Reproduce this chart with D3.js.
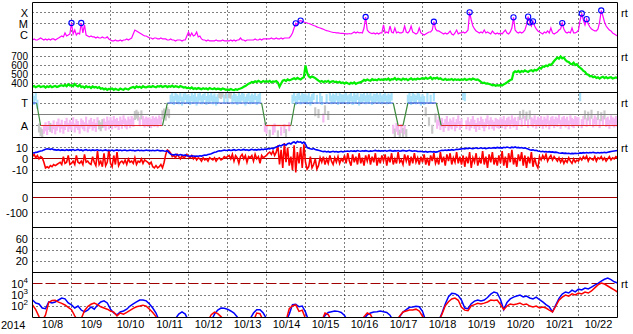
<!DOCTYPE html>
<html><head><meta charset="utf-8">
<script src="https://cdn.jsdelivr.net/npm/d3@7/dist/d3.min.js"></script>
<style>
html,body{margin:0;padding:0;background:#fff;}
svg{display:block;font-family:"Liberation Sans",Arial,Helvetica,sans-serif;}
</style></head><body>
<svg id="c" width="633" height="334"></svg>
<script>
// ---------- DATA ----------
const yearLabel = "2014";
const dayLabels = ["10/8","10/9","10/10","10/11","10/12","10/13","10/14","10/15","10/16","10/17","10/18","10/19","10/20","10/21","10/22"];

// GOES X-ray flux, hourly from 10/8 00UT, units of 1e-6 W/m2
const xrayFlux = [
0.38,0.47,0.38,0.38,0.47,0.57,0.47,0.38,0.47,0.38,0.47,0.38,0.47,0.47,0.38,0.47,0.57,0.71,0.86,0.71,1.6,0.86,1.05,1.3,
12.3,1.3,2.9,1.05,1.6,1.3,12.3,1.6,8.2,1.05,0.86,0.71,0.86,0.71,0.71,0.57,0.71,0.57,0.57,0.71,0.57,0.57,0.71,0.47,
0.38,0.31,0.31,0.38,0.31,0.31,0.38,0.31,0.38,0.38,0.47,0.38,0.47,0.57,1.3,2.9,2.4,1.95,1.6,1.3,1.05,0.86,0.86,0.71,
0.57,0.57,0.47,0.57,0.57,0.47,0.47,0.57,0.47,0.47,0.47,0.38,0.38,0.47,0.38,0.38,0.31,0.38,0.38,0.38,0.31,0.38,0.38,0.86,
1.95,0.86,1.6,0.86,1.05,1.95,0.71,0.86,0.47,0.38,0.38,0.31,0.38,0.31,0.31,0.31,0.31,0.38,0.31,0.31,0.31,0.38,0.31,0.31,
0.31,0.31,0.38,0.31,0.38,0.31,0.38,0.38,0.57,0.38,0.38,0.31,0.38,0.38,0.38,0.38,0.38,0.47,0.38,0.38,0.47,0.38,0.47,0.47,
0.47,0.47,0.47,0.57,0.47,0.47,0.57,0.47,0.47,0.57,0.47,0.57,0.57,0.57,0.57,0.86,1.6,4.4,11.5,8.2,18.5,20,17,15,
13.6,12.3,11.1,10,8.5,7.4,6.6,5.6,4.9,4.4,3.9,3.45,2.9,2.6,2.4,2.15,1.95,1.83,1.75,1.65,1.6,1.52,1.49,1.46,
1.42,1.35,1.3,1.42,1.3,1.6,1.95,1.6,1.95,1.6,1.75,1.6,4.4,42,2.9,1.95,1.6,1.42,1.6,1.3,1.6,1.3,1.6,1.6,
8.2,1.6,1.95,1.6,6.6,1.95,1.6,4.4,1.6,1.95,1.6,1.6,1.95,6.6,1.95,1.6,2.4,6.6,1.95,1.6,1.3,1.6,4.4,1.6,
1.3,1.05,1.3,1.6,1.95,1.95,2.9,16,3.6,2.4,2.4,1.95,1.6,1.3,1.6,1.3,1.6,2.4,1.3,1.05,1.6,2.9,1.3,1.6,
1.6,1.95,1.6,1.95,2.9,110,22.7,6.6,3.6,2.4,1.95,1.6,1.95,1.6,2.9,1.6,1.95,1.6,1.3,2.4,1.6,1.3,1.6,1.3,
1.6,1.3,1.95,2.9,1.6,1.3,1.95,4.4,39,2.9,1.95,1.6,1.95,1.6,1.95,2.9,8.2,45,14,6.6,17,6.6,3.6,2.4,
1.95,1.6,1.3,1.95,1.6,2.4,1.6,4.4,1.6,1.3,1.6,1.95,2.9,3.6,12,3.6,1.95,1.6,1.95,1.6,4.4,1.6,1.6,1.95,
2.9,22.7,86,22.7,8.2,27,10,5.4,3.6,2.9,2.4,2.4,3.6,15,158,51,15,6.6,4.4,2.9,2.4,1.6,1.3,1.05,0.86];
const flareHours = [24,30,162,165,205,247,269,296,305,306,308,326,338,341,350];
const flareFlux  = [12.3,12.3,11.5,20,42,16,110,39,45,14,17,12,86,27,158];

// solar wind speed km/s, hourly
const windSpeed = [
365,372,358,368,375,360,366,371,355,369,362,374,358,367,373,361,368,376,380,372,385,370,392,378,
382,370,395,376,368,384,360,367,352,370,358,364,349,368,356,362,351,360,342,348,335,344,330,341,
338,345,330,342,334,328,343,336,330,345,338,332,348,355,362,350,368,358,365,352,370,360,356,366,
368,360,372,364,358,370,366,375,362,368,373,360,369,364,376,361,370,366,358,372,364,355,360,350,
352,345,356,340,348,338,350,343,336,348,340,345,334,350,342,338,346,335,343,340,332,345,338,330,
335,328,338,330,326,336,329,340,345,352,364,372,385,398,405,418,412,425,416,430,420,415,428,418,
425,418,430,412,424,420,428,410,365,400,432,440,428,445,436,442,450,458,447,462,452,445,460,470,
600,520,480,465,478,470,460,445,432,420,428,415,425,418,430,412,422,426,415,420,410,418,405,412,
398,410,402,395,408,400,412,396,405,410,415,425,440,432,445,436,430,448,438,442,435,450,440,445,
438,450,442,455,436,448,445,460,440,452,446,438,455,444,450,436,448,458,442,450,445,456,448,452,
460,450,465,452,458,470,448,462,455,466,450,458,445,440,452,438,446,442,450,436,448,440,445,438,
446,440,452,438,445,450,442,455,448,440,446,432,418,405,410,398,402,395,388,380,385,375,382,378,
385,378,390,400,412,425,438,445,520,535,528,540,525,538,530,545,535,528,542,548,536,552,545,558,
575,565,590,585,600,592,610,605,625,650,670,690,675,700,680,688,660,645,640,620,615,632,605,615,
590,575,560,540,530,505,498,480,485,470,478,462,470,455,468,475,460,472,458,466,470,455,462,468,460];

// IMF sector boundaries (hour, state T=toward / A=away)
const sectorHours = [0,2.5,5,80,83,141,143.5,159,161.5,222,225,228,231,248.5,251.5,360];
const sectorState = ["T","T","A","A","T","T","A","A","T","T","A","A","T","T","A","A"];
// IMF longitude angle (deg), hourly, with class b=toward p=away g=undetermined -=none
const phiAngle = [
310,290,325,260,70,40,25,60,80,50,90,75,65,95,55,85,110,70,100,60,90,115,75,100,
85,120,70,105,90,60,110,95,80,125,70,100,115,85,105,75,120,95,80,105,110,85,125,95,
120,95,130,105,115,90,125,100,135,110,95,125,105,130,115,170,180,165,120,175,130,110,125,115,
120,105,130,115,125,110,135,120,175,190,165,200,185,300,315,290,325,305,295,320,285,310,330,300,
305,290,320,300,315,285,310,325,295,305,330,290,315,300,320,295,310,285,305,345,338,350,300,342,
310,345,340,295,320,305,290,315,300,325,310,285,305,320,295,310,300,330,290,305,315,0,0,75,
60,0,20,0,50,70,0,15,0,45,0,65,25,0,80,0,300,320,290,310,330,295,315,305,
310,295,320,285,305,330,200,300,185,315,290,150,215,305,170,320,295,310,300,325,290,315,305,300,
310,325,295,305,320,290,315,300,330,285,310,305,320,295,315,300,325,290,310,305,320,300,315,295,
305,320,295,310,300,325,60,30,75,50,20,65,35,55,25,300,315,290,320,305,295,330,310,285,
305,290,200,315,120,300,60,320,150,100,125,90,115,75,105,130,85,110,95,120,80,105,135,90,
110,330,320,95,120,85,105,130,100,75,115,90,125,105,80,110,135,95,120,100,85,115,105,100,
120,105,130,95,115,125,100,135,110,120,90,125,170,115,180,130,165,105,175,120,110,135,100,125,
115,130,100,125,110,135,95,120,130,105,125,115,140,100,120,130,110,125,95,135,115,105,130,120,
120,320,105,130,175,115,165,125,180,110,135,120,170,105,160,130,175,115,125,100,135,120,110,130,115];
const phiClass =
"bbbbgggppppgpppppppppppp"+"pppppppppppppppppgggpppp"+"pppppppppppppppgggpgpppp"+
"ppppppppgggggbbbbbbbbbbb"+"bbbbbbbbbbbbbbbbbbbgggbg"+"bggbbbbbbbbbbbbbbbbbb--p"+
"p-g-pp-g-p-pg-p-bbbbbbbb"+"bbbbbbgbgbbpgbgbbbbbbbbb"+"bbbbbbbbbbbbbbbbbbbbbbbb"+
"bbbbbbpgppgpgpgbbbbbbbbb"+"bbgbgbgbgppppppppppppppp"+"pbbppppppppppppppppppppp"+
"ppppppppppppgpgpgpgppppp"+"pppppppppppppppppppppppp"+"pbppgpgpgpppgpgpgpppppppp";

// IMF Bt and Bz (nT), hourly
const imfBt = [
5.5,5.2,5.8,6,6.5,7,7.2,8,8.5,9,8.8,8.5,9,8.2,8,7.8,8.2,7.5,8,7.8,7.5,8.2,7.6,8,
7.8,8.3,7.5,7.9,8.4,7.6,8,7.2,7.8,8.2,7.5,7.9,7.4,8,7.6,7.8,8.1,7.5,7.8,7.2,7.6,8,7.4,7.7,
7.5,7.9,7.2,7.6,8,7.4,7.8,7.3,7.6,7.9,7.2,7.5,7.8,7.4,7.7,7.1,7.5,7.8,7.3,7.6,7.2,7.5,7.8,7.4,
7.6,7.3,7.7,7.2,7.5,7.8,7.3,7.1,7.4,7,6.8,7.2,5.5,4.2,3.8,3.5,4,3.6,3.2,3.8,3.4,3,3.5,2.8,
2.6,2.4,2.8,2.5,2.2,2.6,2.4,2.8,2.5,3,3.4,3.2,3.8,4.2,4.6,5.2,5.8,6.2,6.8,7.2,7,7.5,7.8,7.4,
7.6,8,7.5,7.8,8.2,7.6,7.9,8.3,7.7,8,8.4,7.8,8.1,7.6,8,8.5,7.9,8.2,7.8,8.4,8,8.6,8.2,8.8,
8.5,9.2,8.8,9.6,9,10,10.5,11,12,11.5,12.5,13,12.2,13.5,14,13.2,14.5,15,14,15.5,14.8,15.2,14,15,
13,10,9.5,9,8.6,9.2,8.4,8,7.6,7.2,6.8,6.5,6.8,6.2,6.6,6,6.4,6.8,6.2,6.5,6,6.4,6.7,6.2,
6.5,6.8,7,6.6,7.2,6.8,7.1,6.7,7.4,7,6.8,7.2,6.9,7.3,7,6.6,7.1,6.8,7.2,7.5,7,7.3,6.9,7.2,
7,7.4,6.8,7.2,7.5,7.1,6.9,7.3,7,7.4,6.8,7.1,7.5,7.2,6.9,7.3,7.6,7.1,6.8,7.2,7,6.7,6.5,6.8,
6.4,6.2,6.6,6,6.3,6.5,6.1,6.4,6,6.2,6.8,7.2,7.6,7.4,7.9,7.5,8,7.7,8.2,7.8,8.1,8.5,8.3,8.7,
8.9,9.2,8.8,9.5,9.1,9.6,9.3,9,9.4,9.8,9.2,9.5,9.9,9.3,9.6,9.1,9.5,9.8,9.4,9.7,10,9.6,10.2,9.8,
10,9.6,10.3,9.9,10.5,10.1,9.8,10.4,10,10.6,9.9,10.2,9.7,10.1,9.5,9.8,9.2,8.8,8.2,7.8,8,7.4,7.6,7,
6.8,6.4,6.7,6.2,6.5,6.1,6.4,6,6.2,5.8,6,5.6,5.2,5,5.3,4.9,5.1,4.8,5,4.6,4.9,4.7,5,4.8,
5,5.3,5.1,5.5,5.2,5.6,5.3,5.7,5.4,5.8,5.5,5.2,5.6,5.3,5.7,5.4,5.8,5.5,5.9,6.2,6.5,6.8,7,7.2,7.4];
const imfBz = [
2,4,1,3,0,2,1,-3,-8,-7,-8,-6,-7,-5,-6,-5,-4,-3,-5,2,-4,-3,3,-5,
-4,-2,-5,3,-3,-4,-2,-5,4,-3,-2,-4,-5,2,-3,-6,7,-5,-2,-7,5,-6,-3,8,
-4,-7,3,-5,6,-6,-3,-2,-4,-1,-5,0,-3,-2,-4,1,-5,-2,-3,0,-4,-1,-2,-3,
-5,-3,-7,-8,-6,-8,-7,-5,-8,-3,4,8,7,5,2,3,1,4,2,0,3,1,2,4,
2,1,3,0,2,-1,1,0,-2,1,-1,0,-2,1,0,-1,1,-2,0,1,-1,0,2,1,
2,3,0,4,-2,3,1,-4,2,4,0,3,-3,2,1,3,-2,4,0,2,-4,3,1,2,
3,5,6,4,7,3,6,12,-5,8,-8,14,-3,10,-6,2,-10,12,-12,6,-4,10,-8,13,
-3,-9,-7,2,-8,-5,0,-9,-6,1,-3,2,-5,0,-4,3,-2,-5,1,-3,2,-4,0,-2,
3,-4,5,-2,-6,4,-3,2,-5,5,-4,1,-6,3,-2,4,-5,2,-3,5,-6,1,-4,3,
-2,4,-6,2,-3,5,-5,0,-4,6,-3,-1,-5,4,-2,3,-6,2,-4,5,-3,1,-5,2,
-3,4,-5,1,-6,3,-2,5,-4,0,-5,6,-3,2,-6,4,-2,5,-5,1,-3,6,-4,2,
-5,3,-7,2,-4,6,-8,1,-3,5,-6,0,-4,7,-5,2,-8,4,-3,6,-5,1,-6,3,
-4,7,-6,2,-8,5,-3,8,-5,1,-7,4,-2,6,-6,3,-8,2,-4,6,-7,1,-5,-8,
2,-1,3,0,4,-2,1,3,-1,2,0,-2,1,-3,0,-4,-1,-3,1,-2,-4,0,-3,-1,
-2,1,-1,2,0,2.5,-2,1,0,-1,2,-2,1,0,2,-1,1,-2,0,2,-1,1,0,2,1];

// electron flux, every 2 hours (two channels: blue and red curves)
const electronBlue = [
360,195,160,70,60,240,195,240,360,540, 450,195,130,70,105,46,31,46,86,55,
130,240,300,195,55,25,17,31,38,55, 105,160,240,360,360,300,160,70,25,5,
5,5,5,5,8,20,31,20,5,5, 5,5,5,5,5,5,20,46,70,66,
55,38,25,11,5,5,5,8,25,50, 50,25,8,5,5,5,5,5,5,20,
140,150,90,105,30,5,5,5,5,5, 15,28,33,38,35,28,15,5,5,5,
5,5,8,17,25,31,33,38,33,28, 16,5,5,12,30,50,80,86,100,90,
35,5,5,5,5,5,25,160,700,1400, 1300,900,350,70,60,170,290,360,300,360,
600,1200,1850,1500,400,50,220,450,650,800, 1000,680,800,540,450,650,380,240,140,90,
32,130,500,1200,1850,1500,2700,1900,3300,2800, 4200,3400,5000,7500,11000,17000,25000,32000,23000,15000,
11700];
const electronRed = [
130,50,12,5,17,220,320,340,230,180, 130,80,50,14,5,8,40,95,150,190,
140,90,70,55,38,30,14,25,20,28, 42,65,90,105,125,100,55,28,12,5,
5,5,5,5,5,5,5,5,5,5, 5,5,5,5,5,18,30,22,12,5,
5,5,5,5,5,5,5,5,5,25, 22,5,5,5,5,5,5,5,5,60,
110,130,35,45,8,5,5,5,5,5, 25,18,5,5,5,5,5,5,5,5,
5,5,12,25,18,5,5,5,5,5, 5,5,5,14,31,38,46,46,55,38,
13,5,5,5,5,5,20,110,250,440, 540,340,80,45,40,110,140,180,160,190,
240,350,320,360,140,50,105,160,135,160, 195,135,160,105,86,105,72,86,70,46,
31,100,350,650,1000,800,1250,1000,1500,1250, 1850,1500,2300,4300,7800,11500,9500,6300,4200,2800,
1850];

// axis labels
const xrayLevels = ["X","M","C"], xrayLevelFlux = [100,10,1];
const speedTicks = [700,600,500,400];
const sectorLabels = ["T","A"], sectorLabelPhi = [270,90];
const bTicks = [10,0,-10];
const dstTicks = [0,-100];
const kpTicks = [60,40,20];
const eTickExp = [4,3,2];
const rtLabel = "rt";

// ---------- LAYOUT ----------
const L = 32.5, R = 617.5, T0 = 2.5, PH = 45;
const pTop = i => T0 + PH * i;
const crisp = v => Math.floor(v) + 0.5;
const svg = d3.select("#c");

const x = d3.scaleLinear().domain([0, 360]).range([L, R]);
const yX = d3.scaleLog().domain([Math.pow(10,-1.089), Math.pow(10,2.911)]).range([pTop(1), pTop(0)]);
const ySpd = d3.scaleLinear().domain([300, 800]).range([pTop(2), pTop(1)]);
const yPhi = d3.scaleLinear().domain([-6, 354]).range([pTop(3), pTop(2)]);
const yB = d3.scaleLinear().domain([-21, 19]).range([pTop(4), pTop(3)]);
const yDst = d3.scaleLinear().domain([-200, 100]).range([pTop(5), pTop(4)]);
const yKp = d3.scaleLinear().domain([0, 80]).range([pTop(6), pTop(5)]);
const yE = d3.scaleLog().domain([10, 1e5]).range([pTop(7), pTop(6)]);

const defs = svg.append("defs");
for (let i = 0; i < 7; i++) {
  defs.append("clipPath").attr("id", "cp" + i).append("rect")
    .attr("x", L).attr("y", pTop(i)).attr("width", R - L).attr("height", PH);
}

// grid
const grid = svg.append("g").attr("stroke", "#000").attr("stroke-width", 1).attr("stroke-dasharray", "1,3");
d3.range(1, 15).forEach(d => {
  grid.append("line").attr("x1", crisp(x(d * 24))).attr("x2", crisp(x(d * 24)))
    .attr("y1", pTop(0)).attr("y2", pTop(7));
});
const hLines = [].concat(
  xrayLevelFlux.slice(0, 2).map(v => yX(v)),
  speedTicks.map(v => ySpd(v)),
  sectorLabelPhi.map(v => yPhi(v)),
  [yB(10), yB(-10)],
  [yDst(-100)],
  kpTicks.map(v => yKp(v)),
  [yE(1e3), yE(1e2)]
);
hLines.forEach(yv => grid.append("line").attr("x1", L).attr("x2", R).attr("y1", crisp(yv)).attr("y2", crisp(yv)));

// reference lines
svg.append("line").attr("x1", L).attr("x2", R).attr("y1", crisp(yB(0))).attr("y2", crisp(yB(0)))
  .attr("stroke", "#a00000").attr("stroke-width", 1);
svg.append("line").attr("x1", L).attr("x2", R).attr("y1", crisp(yDst(0))).attr("y2", crisp(yDst(0)))
  .attr("stroke", "#a00000").attr("stroke-width", 1);
svg.append("line").attr("x1", L).attr("x2", R).attr("y1", crisp(yE(1e4))).attr("y2", crisp(yE(1e4)))
  .attr("stroke", "#a00000").attr("stroke-width", 1).attr("stroke-dasharray", "10,3");

// panel 1: x-ray
const lineX = d3.line().x((d, i) => x(i)).y(d => yX(d));
svg.append("path").attr("clip-path", "url(#cp0)").attr("d", lineX(xrayFlux))
  .attr("fill", "none").attr("stroke", "#ff00ff").attr("stroke-width", 1.2);
svg.append("g").selectAll("circle").data(flareHours).join("circle")
  .attr("cx", (h) => x(h)).attr("cy", (h, i) => yX(flareFlux[i])).attr("r", 2.6)
  .attr("fill", "none").attr("stroke", "#0000ff").attr("stroke-width", 1.1);

// panel 2: speed
const lineS = d3.line().x((d, i) => x(i)).y(d => ySpd(d));
svg.append("path").attr("clip-path", "url(#cp1)").attr("d", lineS(windSpeed))
  .attr("fill", "none").attr("stroke", "#00ee00").attr("stroke-width", 2.2);

// panel 3: sector
const phiColor = { b: "#a8e2fa", p: "#f6b8f2", g: "#c8c8c8" };
svg.append("g").attr("clip-path", "url(#cp2)").selectAll("rect")
  .data(phiAngle.map((p, i) => ({ p, i, c: phiClass[i] })).filter(d => d.c !== "-"))
  .join("rect")
  .attr("x", d => x(d.i) - 1.1).attr("width", 2.2)
  .attr("y", d => yPhi(d.p) - 4.5).attr("height", 9)
  .attr("fill", d => phiColor[d.c]);
svg.append("line").attr("x1", L).attr("x2", R).attr("y1", crisp(yPhi(180))).attr("y2", crisp(yPhi(180)))
  .attr("stroke", "#808080").attr("stroke-width", 1.2);
for (let k = 0; k < sectorHours.length - 1; k++) {
  const s0 = sectorState[k], s1 = sectorState[k + 1];
  const col = s0 !== s1 ? "#3c8a3c" : (s0 === "T" ? "#3355dd" : "#e02828");
  svg.append("line")
    .attr("x1", x(sectorHours[k])).attr("x2", x(sectorHours[k + 1]))
    .attr("y1", yPhi(s0 === "T" ? 270 : 90)).attr("y2", yPhi(s1 === "T" ? 270 : 90))
    .attr("stroke", col).attr("stroke-width", 1.2);
}

// panel 4: IMF
const lineB = d3.line().x((d, i) => x(i)).y(d => yB(d));
svg.append("path").attr("clip-path", "url(#cp3)").attr("d", lineB(imfBz))
  .attr("fill", "none").attr("stroke", "#ff0000").attr("stroke-width", 1.6);
svg.append("path").attr("clip-path", "url(#cp3)").attr("d", lineB(imfBt))
  .attr("fill", "none").attr("stroke", "#0000ff").attr("stroke-width", 1.6);

// panel 7: electrons
const lineE = d3.line().x((d, i) => x(i * 2)).y(d => yE(d));
svg.append("path").attr("clip-path", "url(#cp6)").attr("d", lineE(electronBlue))
  .attr("fill", "none").attr("stroke", "#0000ff").attr("stroke-width", 1.5);
svg.append("path").attr("clip-path", "url(#cp6)").attr("d", lineE(electronRed))
  .attr("fill", "none").attr("stroke", "#ff0000").attr("stroke-width", 1.5);

// panel frames
const frame = svg.append("g").attr("stroke", "#000").attr("stroke-width", 1);
for (let i = 0; i <= 7; i++) frame.append("line").attr("x1", L).attr("x2", R).attr("y1", pTop(i)).attr("y2", pTop(i));
frame.append("line").attr("x1", L).attr("x2", L).attr("y1", pTop(0)).attr("y2", pTop(7));
frame.append("line").attr("x1", R).attr("x2", R).attr("y1", pTop(0)).attr("y2", pTop(7));

// y labels
const lab = svg.append("g").attr("font-size", 11).attr("text-anchor", "end").attr("fill", "#000");
const LX = 28;
xrayLevels.forEach((t, i) => lab.append("text").attr("x", LX).attr("y", yX(xrayLevelFlux[i]) + 4).text(t));
speedTicks.forEach(v => lab.append("text").attr("x", LX).attr("y", ySpd(v) + 3.5).attr("font-size", 10).text(v));
sectorLabels.forEach((t, i) => lab.append("text").attr("x", LX).attr("y", yPhi(sectorLabelPhi[i]) + 4).text(t));
bTicks.forEach(v => lab.append("text").attr("x", LX).attr("y", yB(v) + 4).text(v));
dstTicks.forEach(v => lab.append("text").attr("x", LX).attr("y", yDst(v) + 4).text(v));
kpTicks.forEach(v => lab.append("text").attr("x", LX).attr("y", yKp(v) + 4).text(v));
eTickExp.forEach(e => {
  const t = lab.append("text").attr("x", LX).attr("y", yE(Math.pow(10, e)) + 4);
  t.append("tspan").text("10");
  t.append("tspan").attr("font-size", 8).attr("dy", -5).text(e);
});

// rt labels
const rtG = svg.append("g").attr("font-size", 11).attr("fill", "#000");
[yX(100), ySpd(700), yPhi(270), yB(10), yE(1e4)].forEach(yv =>
  rtG.append("text").attr("x", 621).attr("y", yv + 4).text(rtLabel));

// bottom axis
const ax = svg.append("g").attr("transform", `translate(0,${pTop(7)})`)
  .call(d3.axisBottom(x).tickValues(dayLabels.map((_, i) => i * 24 + 12))
    .tickFormat((d, i) => dayLabels[i]).tickSize(0).tickPadding(3));
ax.select(".domain").remove();
ax.attr("font-size", 11).attr("font-family", null);
ax.selectAll("text").attr("fill", "#000");
svg.append("text").attr("x", 1).attr("y", pTop(7) + 3 + 11 * 0.71 + 0.5).attr("font-size", 11).text(yearLabel);
</script>
</body></html>
